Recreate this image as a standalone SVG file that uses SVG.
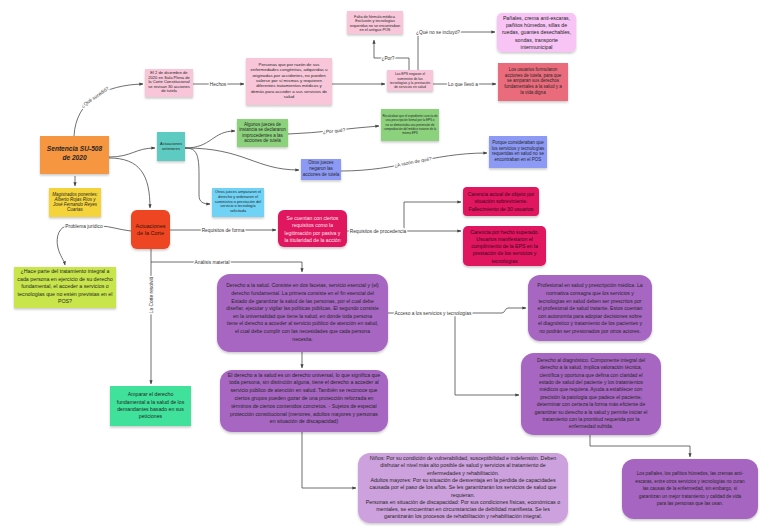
<svg xmlns="http://www.w3.org/2000/svg" width="768" height="532" viewBox="0 0 768 532">
<defs>
<style>
.t{font-family:"Liberation Sans",Arial,sans-serif;fill:#262626;text-anchor:middle}
.lbl{font-family:"Liberation Sans",Arial,sans-serif;fill:#333;text-anchor:middle;font-size:4.8px;stroke:#fff;stroke-width:2.6;stroke-linejoin:round;paint-order:stroke}
.c{fill:none;stroke:#4a4a4a;stroke-width:0.8}
.a{marker-end:url(#ah)}
.pu{fill:#A766C2}
.pk{fill:#F8C6D8}
.mg{fill:#E0155F}
</style>
<marker id="ah" viewBox="0 0 6 6" refX="5.5" refY="3" markerWidth="5" markerHeight="5" orient="auto"><path d="M0,0.6 L6,3 L0,5.4z" fill="#444"/></marker>
<filter id="sh" x="-10%" y="-10%" width="120%" height="130%"><feDropShadow dx="0" dy="1.5" stdDeviation="1.2" flood-color="#000" flood-opacity="0.22"/></filter>
</defs>
<rect width="768" height="532" fill="#fff"/>

<g id="connectors">
<path class="c a" d="M74,136 C76,100 105,85 143,84"/>
<path class="c a" d="M75,176 L75,186"/>
<path class="c a" d="M193,84 L244,84"/>
<path class="c a" d="M332,84 L385,84"/>
<path class="c a" d="M433,84 L496,84"/>
<path class="c a" d="M409,70 L409,58 L374,58 L374,40"/>
<path class="c a" d="M418,70 L418,32 L495,32"/>
<path class="c a" d="M109,157 C132,157 135,148 155,148"/>
<path class="c a" d="M109,158 C140,158 150,175 150,208"/>
<path class="c a" d="M185,148 C212,148 212,131 235,131"/>
<path class="c a" d="M185,148 C245,148 255,170 299,170"/>
<path class="c a" d="M185,148 C197,148 199,155 199,175 L199,195 C199,202 203,204 210,204"/>
<path class="c a" d="M288,134 C320,133 350,128 379,126"/>
<path class="c a" d="M341,171 C400,171 430,153 487,153"/>
<path class="c a" d="M131,231 C120,230 110,226 100,226 L68,226 C60,226 55,236 58,248 C60,256 64,260 65,265"/>
<path class="c a" d="M170,230 L276,230"/>
<path class="c a" d="M347,231 L461,231"/>
<path class="c a" d="M404,231 L404,202 L461,202"/>
<path class="c a" d="M151,249 L151,384"/>
<path class="c a" d="M151,262 L302,262 L302,272"/>
<path class="c a" d="M302,352 L302,368"/>
<path class="c a" d="M388,313 L502,313 C505,313 505,308 508,308 L526,308"/>
<path class="c a" d="M455,316 L455,395 L519,395"/>
<path class="c a" d="M590,435 L590,446 L690,446 L690,457"/>
<path class="c a" d="M302,432 L302,488 L356,488"/>
<text class="lbl" transform="translate(95,97) rotate(-35)" y="1.6" font-size="5">¿Qué sucedió?</text>
<text class="lbl" x="218" y="85.7" font-size="5">Hechos</text>
<text class="lbl" x="463" y="85.6">Lo que llevó a</text>
<text class="lbl" x="388" y="59.6" font-size="4.5">¿Por?</text>
<text class="lbl" x="438" y="33.7">¿Qué no se incluyó?</text>
<text class="lbl" transform="translate(334,131) rotate(-5)" y="1.6" font-size="4.6">¿Por qué?</text>
<text class="lbl" transform="translate(413,162) rotate(-11)" y="1.6" font-size="4.6">¿A razón de qué?</text>
<text class="lbl" x="84" y="227.6" font-size="4.7">Problema jurídico</text>
<text class="lbl" x="223" y="231.7" font-size="5">Requisitos de forma</text>
<text class="lbl" x="378" y="232.5" font-size="4.6">Requisitos de procedencia</text>
<text class="lbl" transform="translate(151,295) rotate(-90)" y="1.6" font-size="4.6">La Corte resolvió</text>
<text class="lbl" x="212" y="263.7">Análisis material</text>
<text class="lbl" x="433" y="314.7">Acceso a los servicios y tecnologías</text>
</g>

<g id="n-sentencia"><rect x="40" y="136" width="69" height="38" fill="#F7963F" filter="url(#sh)"/>
<text class="t" font-size="6.6" font-weight="bold" font-style="italic"><tspan x="74.5" y="151.4">Sentencia SU-508</tspan><tspan x="74.5" y="159.6">de 2020</tspan></text></g>

<g id="n-magistrados"><rect x="49" y="188" width="52" height="29" fill="#F5D43B" filter="url(#sh)"/>
<text class="t" font-size="4.5" font-style="italic"><tspan x="75" y="195.6">Magistrados ponentes:</tspan><tspan x="75" y="200.8">Alberto Rojas Ríos y</tspan><tspan x="75" y="205.8">José Fernando Reyes</tspan><tspan x="75" y="210.9">Cuartas</tspan></text></g>

<g id="n-fecha"><rect class="pk" x="145" y="69" width="48" height="28" filter="url(#sh)"/>
<text class="t" font-size="4.1"><tspan x="169" y="74.1">El 2 de diciembre de</tspan><tspan x="169" y="78.6">2020 en Sala Plena de</tspan><tspan x="169" y="83.1">la Corte Constitucional</tspan><tspan x="169" y="87.6">se revisan 30 acciones</tspan><tspan x="169" y="92.1">de tutela</tspan></text></g>

<g id="n-personas"><rect class="pk" x="246" y="58" width="86" height="47" filter="url(#sh)"/>
<text class="t" font-size="4.4"><tspan x="289" y="65.8">Personas que por razón de sus</tspan><tspan x="289" y="71.15">enfermedades congénitas, adquiridas u</tspan><tspan x="289" y="76.5">originadas por accidentes, no pueden</tspan><tspan x="289" y="81.85">valerse por sí mismas y requieren</tspan><tspan x="289" y="87.2">diferentes tratamientos médicos y</tspan><tspan x="289" y="92.55">demás para acceder a sus servicios de</tspan><tspan x="289" y="97.9">salud</tspan></text></g>

<g id="n-eps"><rect class="pk" x="387" y="70" width="46" height="21" filter="url(#sh)"/>
<text class="t" font-size="3.4"><tspan x="410" y="75.2">Las EPS negaron el</tspan><tspan x="410" y="79.5">suministro de las</tspan><tspan x="410" y="83.8">tecnologías y la prestación</tspan><tspan x="410" y="88.1">de servicios en salud</tspan></text></g>

<g id="n-falta"><rect class="pk" x="347" y="11" width="56" height="23" filter="url(#sh)"/>
<text class="t" font-size="3.8"><tspan x="375" y="17.9">Falta de fórmula médica.</tspan><tspan x="375" y="22.2">Exclusión y tecnologías</tspan><tspan x="375" y="26.5">requeridas no se encontraban</tspan><tspan x="375" y="30.8">en el antiguo POS</tspan></text></g>

<g id="n-panales"><rect x="497" y="13" width="79" height="39" rx="5" fill="#F7C4F5" filter="url(#sh)"/>
<text class="t" font-size="5.2"><tspan x="536.5" y="20.2">Pañales, crema anti-escaras,</tspan><tspan x="536.5" y="27.3">pañitos húmedos, sillas de</tspan><tspan x="536.5" y="34.4">ruedas, guantes desechables,</tspan><tspan x="536.5" y="41.5">sondas, transporte</tspan><tspan x="536.5" y="48.6">intermunicipal</tspan></text></g>

<g id="n-usuarios"><rect x="498" y="63" width="70" height="38" fill="#EA6C7C" filter="url(#sh)"/>
<text class="t" font-size="4.5"><tspan x="533" y="70.8">Los usuarios formularon</tspan><tspan x="533" y="76.6">acciones de tutela, para que</tspan><tspan x="533" y="82.4">se amparan sus derechos</tspan><tspan x="533" y="88.2">fundamentales a la salud y a</tspan><tspan x="533" y="94">la vida digna</tspan></text></g>

<g id="n-anteriores"><rect x="157" y="132" width="28" height="29" fill="#5DCBC1" filter="url(#sh)"/>
<text class="t" font-size="4"><tspan x="171" y="145.4">Actuaciones</tspan><tspan x="171" y="149.8">anteriores</tspan></text></g>

<g id="n-improcedentes"><rect x="237" y="119" width="51" height="28" fill="#8CD27D" filter="url(#sh)"/>
<text class="t" font-size="4.5"><tspan x="262.5" y="125.5">Algunos jueces de</tspan><tspan x="262.5" y="131.1">instancia se declararon</tspan><tspan x="262.5" y="136.7">improcedentes a las</tspan><tspan x="262.5" y="142.3">acciones de tutela</tspan></text></g>

<g id="n-porque1"><rect x="381" y="109" width="58" height="32" fill="#8CD27D" filter="url(#sh)"/>
<text class="t" font-size="3"><tspan x="410" y="116.8">Recalcaban que el expediente carecía de</tspan><tspan x="410" y="121.2">una prescripción formal por la EPS o</tspan><tspan x="410" y="125.6">no se demostraba una pretensión de</tspan><tspan x="410" y="130">comprobación del médico tratante de la</tspan><tspan x="410" y="134.4">misma EPS</tspan></text></g>

<g id="n-negaron"><rect x="301" y="159" width="40" height="21" fill="#8C9AF6" filter="url(#sh)"/>
<text class="t" font-size="4.5"><tspan x="321" y="164.2">Otros jueces</tspan><tspan x="321" y="170.2">negaron las</tspan><tspan x="321" y="176.2">acciones de tutela</tspan></text></g>

<g id="n-porque2"><rect x="489" y="136" width="58" height="32" fill="#8C9AF6" filter="url(#sh)"/>
<text class="t" font-size="4.5"><tspan x="518" y="144.2">Porque consideraban que</tspan><tspan x="518" y="149.7">los servicios y tecnologías</tspan><tspan x="518" y="155.2">requeridas en salud no se</tspan><tspan x="518" y="160.7">encontraban en el POS</tspan></text></g>

<g id="n-ampararon"><rect x="212" y="188" width="52" height="29" fill="#70D3F6" filter="url(#sh)"/>
<text class="t" font-size="3.9"><tspan x="238" y="193">Otros jueces ampararon el</tspan><tspan x="238" y="197.8">derecho y ordenaron el</tspan><tspan x="238" y="202.5">suministro o prestación del</tspan><tspan x="238" y="207.3">servicio o tecnología</tspan><tspan x="238" y="212">solicitada</tspan></text></g>

<g id="n-corte"><rect x="131" y="210" width="39" height="39" rx="6" fill="#EE4522" filter="url(#sh)"/>
<text class="t" font-size="5.5" style="fill:#3a1208"><tspan x="150.5" y="228">Actuaciones</tspan><tspan x="150.5" y="234.6">de la Corte</tspan></text></g>

<g id="n-problema"><rect x="14" y="267" width="102" height="41" fill="#C8E64C" filter="url(#sh)"/>
<text class="t" font-size="5.3"><tspan x="65" y="272.9">¿Hace parte del tratamiento integral a</tspan><tspan x="65" y="280.5">cada persona en ejercicio de su derecho</tspan><tspan x="65" y="288.1">fundamental, el acceder a servicios o</tspan><tspan x="65" y="295.7">tecnologías que no estén previstas en el</tspan><tspan x="65" y="303.3">POS?</tspan></text></g>

<g id="n-forma"><rect class="mg" x="278" y="210" width="69" height="37" rx="6" filter="url(#sh)"/>
<text class="t" font-size="5.1" style="fill:#fde6ec"><tspan x="312.5" y="220.1">Se cuentan con ciertos</tspan><tspan x="312.5" y="227.3">requisitos como la</tspan><tspan x="312.5" y="234.5">legitimación por pasiva y</tspan><tspan x="312.5" y="241.7">la titularidad de la acción</tspan></text></g>

<g id="n-carencia1"><rect class="mg" x="463" y="187" width="76" height="29" rx="4" filter="url(#sh)"/>
<text class="t" font-size="5.1" style="fill:#3a0818"><tspan x="501" y="195.9">Carencia actual de objeto por</tspan><tspan x="501" y="203.4">situación sobreviniente.</tspan><tspan x="501" y="210.9">Fallecimiento de 30 usuarios</tspan></text></g>

<g id="n-carencia2"><rect class="mg" x="463" y="226" width="83" height="40" rx="5" filter="url(#sh)"/>
<text class="t" font-size="5.1" style="fill:#3a0818"><tspan x="504.5" y="233.5">Carencia por hecho superado.</tspan><tspan x="504.5" y="240.8">Usuarios manifestaron el</tspan><tspan x="504.5" y="248.1">cumplimiento de la EPS en la</tspan><tspan x="504.5" y="255.4">prestación de los servicios y</tspan><tspan x="504.5" y="262.7">tecnologías</tspan></text></g>

<g id="n-salud"><rect class="pu" x="217" y="274" width="171" height="78" rx="13" filter="url(#sh)"/>
<text class="t" font-size="5.1"><tspan x="302.5" y="287.3">Derecho a la salud. Consiste en dos facetas, servicio esencial y (el)</tspan><tspan x="302.5" y="294.9">derecho fundamental. La primera consiste en el fin esencial del</tspan><tspan x="302.5" y="302.5">Estado de garantizar la salud de las personas, por el cual debe</tspan><tspan x="302.5" y="310.1">diseñar, ejecutar y vigilar las políticas públicas. El segundo consiste</tspan><tspan x="302.5" y="317.7">en la universalidad que tiene la salud, en donde toda persona</tspan><tspan x="302.5" y="325.3">tiene el derecho a acceder al servicio público de atención en salud,</tspan><tspan x="302.5" y="332.9">el cual debe cumplir con las necesidades que cada persona</tspan><tspan x="302.5" y="340.5">necesita.</tspan></text></g>

<g id="n-profesional"><rect class="pu" x="528" y="275" width="124" height="66" rx="12" filter="url(#sh)"/>
<text class="t" font-size="5.1"><tspan x="590" y="287.4">Profesional en salud y prescripción médica. La</tspan><tspan x="590" y="295">normativa consagra que los servicios y</tspan><tspan x="590" y="302.6">tecnologías en salud deben ser prescritos por</tspan><tspan x="590" y="310.2">el profesional de salud tratante. Estos cuentan</tspan><tspan x="590" y="317.8">con autonomía para adoptar decisiones sobre</tspan><tspan x="590" y="325.4">el diagnóstico y tratamiento de los pacientes y</tspan><tspan x="590" y="333">no podrán ser presionados por otros actores.</tspan></text></g>

<g id="n-diagnostico"><rect class="pu" x="521" y="353" width="140" height="82" rx="13" filter="url(#sh)"/>
<text class="t" font-size="5"><tspan x="591" y="361.7">Derecho al diagnóstico. Componente integral del</tspan><tspan x="591" y="369.1">derecho a la salud, implica valoración técnica,</tspan><tspan x="591" y="376.5">científica y oportuna que defina con claridad el</tspan><tspan x="591" y="383.9">estado de salud del paciente y los tratamientos</tspan><tspan x="591" y="391.3">médicos que requiera. Ayuda a establecer con</tspan><tspan x="591" y="398.7">precisión la patología que padece el paciente,</tspan><tspan x="591" y="406.1">determinar con certeza la forma más eficiente de</tspan><tspan x="591" y="413.5">garantizar su derecho a la salud y permite iniciar el</tspan><tspan x="591" y="420.9">tratamiento con la prontitud requerida por la</tspan><tspan x="591" y="428.3">enfermedad sufrida.</tspan></text></g>

<g id="n-universal"><rect class="pu" x="220" y="370" width="168" height="62" rx="12" filter="url(#sh)"/>
<text class="t" font-size="5.2"><tspan x="304" y="376.6">El derecho a la salud es un derecho universal, lo que significa que</tspan><tspan x="304" y="384.4">toda persona, sin distinción alguna, tiene el derecho a acceder al</tspan><tspan x="304" y="392.2">servicio público de atención en salud. También se reconoce que</tspan><tspan x="304" y="400">ciertos grupos pueden gozar de una protección reforzada en</tspan><tspan x="304" y="407.8">términos de ciertos contenidos concretos. - Sujetos de especial</tspan><tspan x="304" y="415.6">protección constitucional (menores, adultos mayores y personas</tspan><tspan x="304" y="423.4">en situación de discapacidad)</tspan></text></g>

<g id="n-sujetos"><rect x="358" y="453" width="210" height="70" rx="12" fill="#CDA1DD" filter="url(#sh)"/>
<text class="t" font-size="5.3"><tspan x="463" y="460">Niños: Por su condición de vulnerabilidad, susceptibilidad e indefensión. Deben</tspan><tspan x="463" y="467.3">disfrutar el nivel más alto posible de salud y servicios al tratamiento de</tspan><tspan x="463" y="474.6">enfermedades y rehabilitación.</tspan><tspan x="463" y="481.9">Adultos mayores: Por su situación de desventaja en la pérdida de capacidades</tspan><tspan x="463" y="489.2">causada por el paso de los años. Se les garantizarán los servicios de salud que</tspan><tspan x="463" y="496.5">requieran.</tspan><tspan x="463" y="503.8">Personas en situación de discapacidad: Por sus condiciones físicas, económicas o</tspan><tspan x="463" y="511.1">mentales, se encuentran en circunstancias de debilidad manifiesta. Se les</tspan><tspan x="463" y="518.4">garantizarán los procesos de rehabilitación y rehabilitación integral.</tspan></text></g>

<g id="n-conclusion"><rect x="622" y="459" width="136" height="60" rx="12" fill="#A665C1" filter="url(#sh)"/>
<text class="t" font-size="4.7"><tspan x="690" y="475">Los pañales, los pañitos húmedos, las cremas anti-</tspan><tspan x="690" y="482.5">escaras, entre otros servicios y tecnologías no curan</tspan><tspan x="690" y="490">las causas de la enfermedad, sin embargo, sí</tspan><tspan x="690" y="497.5">garantizan un mejor tratamiento y calidad de vida</tspan><tspan x="690" y="505">para las personas que las usan.</tspan></text></g>

<g id="n-amparar"><rect x="110" y="386" width="81" height="40" fill="#40E29B" filter="url(#sh)"/>
<text class="t" font-size="5.2"><tspan x="150.5" y="396.1">Amparar el derecho</tspan><tspan x="150.5" y="403.5">fundamental a la salud de los</tspan><tspan x="150.5" y="410.9">demandantes basado en sus</tspan><tspan x="150.5" y="418.3">peticiones</tspan></text></g>
</svg>
